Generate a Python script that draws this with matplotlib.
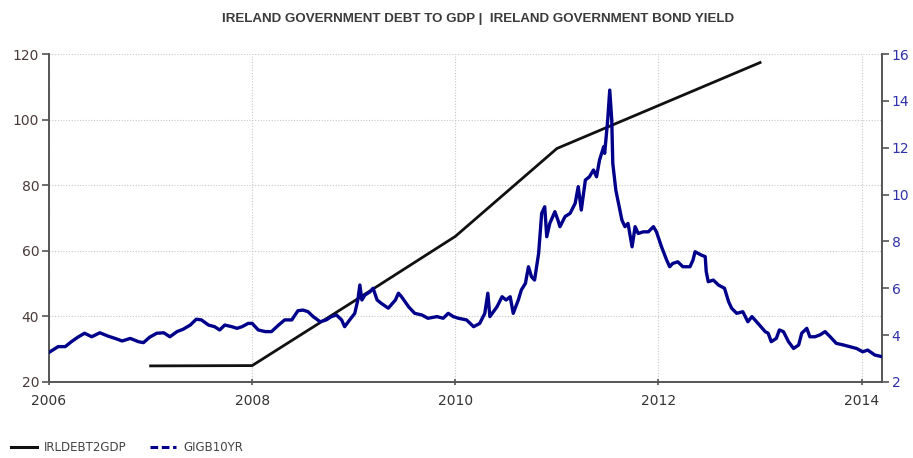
import matplotlib
matplotlib.use("Agg")
import matplotlib.pyplot as plt
from matplotlib.lines import Line2D

plt.rcParams['font.family'] = ['DejaVu Sans']

# Debt to GDP (left axis)
debt_years = [2007.0, 2008.0, 2009.0, 2010.0, 2011.0, 2012.0, 2013.0]
debt_values = [24.9, 25.0, 44.6, 64.4, 91.2, 104.3, 117.4]

# 10Y bond yield (right axis)
yield_years = [
    2006.01, 2006.09, 2006.16, 2006.22, 2006.29, 2006.35, 2006.42, 2006.50, 2006.58, 2006.65,
    2006.72, 2006.80, 2006.88, 2006.93, 2006.99, 2007.06, 2007.13, 2007.19, 2007.26, 2007.32,
    2007.39, 2007.45, 2007.50, 2007.57, 2007.63, 2007.68, 2007.73, 2007.80, 2007.85, 2007.90,
    2007.96, 2008.00, 2008.06, 2008.13, 2008.19, 2008.26, 2008.32, 2008.39, 2008.45, 2008.50,
    2008.55, 2008.60, 2008.67, 2008.73, 2008.78, 2008.83, 2008.88, 2008.91, 2008.96, 2009.01,
    2009.04, 2009.06, 2009.08, 2009.11, 2009.16, 2009.19, 2009.23, 2009.27, 2009.34, 2009.41,
    2009.44, 2009.47, 2009.54, 2009.60, 2009.67, 2009.73, 2009.82, 2009.88, 2009.93, 2009.98,
    2010.03, 2010.11, 2010.18, 2010.24, 2010.29, 2010.32, 2010.34, 2010.41, 2010.46, 2010.50,
    2010.54, 2010.57, 2010.62, 2010.65, 2010.69, 2010.72, 2010.75, 2010.78, 2010.82, 2010.85,
    2010.88, 2010.90, 2010.93, 2010.98, 2011.01, 2011.03, 2011.08, 2011.13, 2011.18, 2011.21,
    2011.24, 2011.28, 2011.32, 2011.36, 2011.39, 2011.42, 2011.46, 2011.47, 2011.50, 2011.52,
    2011.54, 2011.55, 2011.58, 2011.60, 2011.64, 2011.67, 2011.70, 2011.74, 2011.77, 2011.80,
    2011.85, 2011.90, 2011.95, 2011.98, 2012.03, 2012.08, 2012.11, 2012.14, 2012.19, 2012.24,
    2012.31, 2012.34, 2012.36, 2012.42, 2012.46, 2012.47, 2012.49, 2012.54, 2012.59, 2012.65,
    2012.69, 2012.72, 2012.77, 2012.83, 2012.88, 2012.92, 2012.98, 2013.05, 2013.08, 2013.11,
    2013.16, 2013.19, 2013.23, 2013.28, 2013.33, 2013.38, 2013.41, 2013.46, 2013.49, 2013.54,
    2013.59, 2013.64, 2013.69, 2013.75, 2013.82, 2013.88, 2013.95, 2014.01, 2014.06, 2014.13,
    2014.20,
]
yield_values = [
    3.29, 3.51, 3.51, 3.72, 3.93, 4.08, 3.93, 4.10, 3.96, 3.86,
    3.75, 3.86, 3.72, 3.68, 3.91, 4.08, 4.10, 3.93, 4.15, 4.25,
    4.43, 4.68, 4.65, 4.43, 4.36, 4.22, 4.43, 4.36, 4.29, 4.36,
    4.50, 4.50, 4.22, 4.15, 4.15, 4.43, 4.65, 4.65, 5.04, 5.07,
    5.00, 4.79, 4.57, 4.65, 4.79, 4.86, 4.65, 4.36, 4.65, 4.93,
    5.50, 6.14, 5.50, 5.71, 5.85, 6.00, 5.50, 5.36, 5.15, 5.50,
    5.79, 5.64, 5.21, 4.93, 4.86, 4.72, 4.79, 4.72, 4.93, 4.79,
    4.72, 4.65, 4.36, 4.50, 4.93, 5.79, 4.79, 5.21, 5.64, 5.50,
    5.64, 4.93, 5.50, 5.93, 6.21, 6.92, 6.49, 6.35, 7.49, 9.20,
    9.48, 8.20, 8.77, 9.27, 8.91, 8.63, 9.06, 9.20, 9.63, 10.34,
    9.34, 10.62, 10.76, 11.05, 10.76, 11.48, 12.04, 11.76, 13.18, 14.46,
    13.18, 11.33, 10.19, 9.77, 8.91, 8.63, 8.77, 7.77, 8.63, 8.34,
    8.41, 8.41, 8.63, 8.41, 7.77, 7.21, 6.92, 7.06, 7.13, 6.92,
    6.92, 7.21, 7.56, 7.42, 7.35, 6.71, 6.28, 6.35, 6.14, 6.00,
    5.43, 5.15, 4.93, 5.00, 4.57, 4.79, 4.50, 4.15, 4.08, 3.72,
    3.86, 4.22, 4.15, 3.72, 3.43, 3.58, 4.08, 4.29, 3.93, 3.93,
    4.01, 4.15, 3.93, 3.65, 3.58, 3.51, 3.43, 3.29, 3.36, 3.15,
    3.08,
]

left_ticks = [20, 40, 60, 80, 100, 120]
right_ticks = [2, 4, 6, 8, 10, 12, 14, 16]
x_ticks = [2006, 2008, 2010, 2012, 2014]

title = "IRELAND GOVERNMENT DEBT TO GDP |  IRELAND GOVERNMENT BOND YIELD"
debt_label = "IRLDEBT2GDP"
yield_label = "GIGB10YR"

navy = "#00008B"
fig = plt.figure(figsize=(9.13, 4.58), dpi=100)
ax = fig.add_axes([0.0537, 0.166, 0.9123, 0.716])
ax2 = ax.twinx()

ax.plot(debt_years, debt_values, color="#111111", lw=2.0, zorder=3)
ax2.plot(yield_years, yield_values, color=navy, lw=2.4, zorder=3)

ax.set_xlim(2006.0, 2014.2)
ax.set_ylim(20, 120)
ax2.set_ylim(2, 16)
ax.set_xticks(x_ticks)
ax.set_xticklabels([str(t) for t in x_ticks])
ax.set_yticks(left_ticks)
ax2.set_yticks(right_ticks)

ax.grid(True, linestyle=(0, (1, 1.5)), color="#c8c8c8", lw=0.8)
ax.set_axisbelow(True)

for a in (ax, ax2):
    a.spines['top'].set_visible(False)
    for s in ('left', 'right', 'bottom'):
        a.spines[s].set_color("#555555")
        a.spines[s].set_linewidth(1.2)

ax.tick_params(axis='y', colors="#555555", labelcolor="#4a3b3b", labelsize=10, length=5, width=1.2, pad=2)
ax.tick_params(axis='x', colors="#555555", labelcolor="#333333", labelsize=10, length=5, width=1.2, direction='inout', pad=6)
ax2.tick_params(axis='y', colors="#555555", labelcolor="#3030a8", labelsize=10, length=5, width=1.2, pad=2)

fig.text(0.524, 0.958, title, ha='center', va='center', fontsize=9.6, fontweight='bold',
         color="#3a3a3a", family=['Liberation Sans', 'DejaVu Sans'])

handles = [Line2D([0], [0], color="#111111", lw=2.2),
           Line2D([0], [0], color=navy, lw=2.2, linestyle=(0, (2.5, 1.2)))]
fig.legend(handles, [debt_label, yield_label], loc='lower left', bbox_to_anchor=(0.0, -0.015),
           ncol=2, frameon=False, fontsize=8.5, handlelength=2.2, handletextpad=0.6,
           columnspacing=2.0, labelcolor="#444444")

fig.savefig("out.png", dpi=100)
